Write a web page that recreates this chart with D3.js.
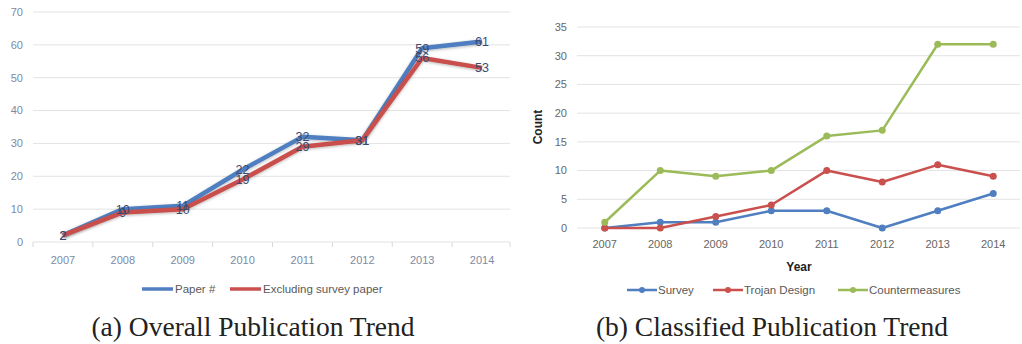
<!DOCTYPE html>
<html>
<head>
<meta charset="utf-8">
<script src="https://cdn.jsdelivr.net/npm/d3@7"></script>
<style>
  html, body { margin: 0; padding: 0; background: #fff; }
  svg { display: block; }
</style>
</head>
<body>
<svg id="chart" width="1022" height="344"></svg>
<script>
// years shared by both panels
var years = ['2007', '2008', '2009', '2010', '2011', '2012', '2013', '2014'];

// (a) overall trend
var paperCount = [2, 10, 11, 22, 32, 31, 59, 61];
var excludingSurvey = [2, 9, 10, 19, 29, 31, 56, 53];
var overallTicks = [0, 10, 20, 30, 40, 50, 60, 70];

// (b) classified trend
var survey = [0, 1, 1, 3, 3, 0, 3, 6];
var trojanDesign = [0, 0, 2, 4, 10, 8, 11, 9];
var countermeasures = [1, 10, 9, 10, 16, 17, 32, 32];
var classifiedTicks = [0, 5, 10, 15, 20, 25, 30, 35];

var BLUE = '#4f7fc0';
var RED = '#c9504d';
var GREEN = '#9bbb59';
var AXIS_FONT = '"Liberation Sans", Arial, sans-serif';
var CAPTION_FONT = '"Liberation Serif", "Times New Roman", serif';

var svg = d3.select('#chart');

// soft shadow used by the thick lines on the left panel
var defs = svg.append('defs');
defs.append('filter')
    .attr('id', 'glow')
    .attr('x', '-10%').attr('y', '-10%')
    .attr('width', '120%').attr('height', '120%')
    .append('feDropShadow')
    .attr('dx', 0).attr('dy', 1)
    .attr('stdDeviation', 1.4)
    .attr('flood-color', '#000')
    .attr('flood-opacity', 0.28);

/**
 * Draws the horizontal grid and the tick labels for one panel.
 */
function drawFrame(g, x, y, ticks, x0, x1, labelColor) {
  g.append('g').selectAll('line').data(ticks)
      .enter().append('line')
      .attr('x1', x0).attr('x2', x1)
      .attr('y1', function(d) { return y(d); })
      .attr('y2', function(d) { return y(d); })
      .attr('stroke', '#e3e3e3')
      .attr('stroke-width', 1);

  g.append('g').selectAll('text').data(ticks)
      .enter().append('text')
      .attr('x', x0 - 10)
      .attr('y', function(d) { return y(d); })
      .attr('dy', '0.35em')
      .attr('text-anchor', 'end')
      .attr('font-family', AXIS_FONT)
      .attr('font-size', 11)
      .attr('fill', labelColor)
      .text(function(d) { return d; });
}

// ---------- panel (a) ----------
(function() {
  var g = svg.append('g');
  var x = d3.scaleBand().domain(years).range([33, 512]);
  var y = d3.scaleLinear().domain([0, 70]).range([242, 12]);
  var cx = function(d, i) { return x(years[i]) + x.bandwidth() / 2; };

  drawFrame(g, x, y, overallTicks, 33, 510, '#7d8aa3');

  // category tick marks below the base line
  var bounds = years.map(function(d) { return x(d); }).concat([x.range()[1] - 2]);
  g.append('g').selectAll('line').data(bounds)
      .enter().append('line')
      .attr('x1', function(d) { return d; })
      .attr('x2', function(d) { return d; })
      .attr('y1', y(0)).attr('y2', y(0) + 5)
      .attr('stroke', '#d9d9d9');

  g.append('g').selectAll('text').data(years)
      .enter().append('text')
      .attr('x', function(d) { return x(d) + x.bandwidth() / 2; })
      .attr('y', 260)
      .attr('dy', '0.35em')
      .attr('text-anchor', 'middle')
      .attr('font-family', AXIS_FONT)
      .attr('font-size', 11)
      .attr('fill', '#7d8aa3')
      .text(function(d) { return d; });

  var line = d3.line().x(cx).y(function(d) { return y(d); });
  var series = [
    {name: 'Paper #', values: paperCount, color: BLUE},
    {name: 'Excluding survey paper', values: excludingSurvey, color: RED}
  ];

  series.forEach(function(s) {
    g.append('path')
        .datum(s.values)
        .attr('d', line)
        .attr('fill', 'none')
        .attr('stroke', s.color)
        .attr('stroke-width', 4.5)
        .attr('stroke-linejoin', 'round')
        .attr('filter', 'url(#glow)');
  });

  // value labels sit centred on each point
  series.forEach(function(s) {
    g.append('g').selectAll('text').data(s.values)
        .enter().append('text')
        .attr('x', cx)
        .attr('y', function(d) { return y(d); })
        .attr('dy', '0.35em')
        .attr('text-anchor', 'middle')
        .attr('font-family', AXIS_FONT)
        .attr('font-size', 12.5)
        .attr('fill', '#3c4a6e')
        .text(function(d) { return d; });
  });

  // legend
  var legendX = [142, 230];
  series.forEach(function(s, i) {
    var lg = g.append('g').attr('transform', 'translate(' + legendX[i] + ',289)');
    lg.append('line')
        .attr('x1', 0).attr('x2', 31)
        .attr('stroke', s.color).attr('stroke-width', 3.5);
    lg.append('text')
        .attr('x', 33).attr('dy', '0.35em')
        .attr('font-family', AXIS_FONT)
        .attr('font-size', 11.5)
        .attr('fill', '#595959')
        .text(s.name);
  });

  g.append('text')
      .attr('x', 253).attr('y', 336)
      .attr('text-anchor', 'middle')
      .attr('font-family', CAPTION_FONT)
      .attr('font-size', 27.5)
      .attr('fill', '#222')
      .text('(a) Overall Publication Trend');
})();

// ---------- panel (b) ----------
(function() {
  var g = svg.append('g');
  var x = d3.scaleBand().domain(years).range([577, 1021]);
  var y = d3.scaleLinear().domain([0, 35]).range([228, 27]);
  var cx = function(d, i) { return x(years[i]) + x.bandwidth() / 2; };

  drawFrame(g, x, y, classifiedTicks, 577, 1020, '#666');

  g.append('g').selectAll('text').data(years)
      .enter().append('text')
      .attr('x', function(d) { return x(d) + x.bandwidth() / 2; })
      .attr('y', 244)
      .attr('dy', '0.35em')
      .attr('text-anchor', 'middle')
      .attr('font-family', AXIS_FONT)
      .attr('font-size', 11)
      .attr('fill', '#666')
      .text(function(d) { return d; });

  g.append('text')
      .attr('x', 799).attr('y', 267)
      .attr('dy', '0.35em')
      .attr('text-anchor', 'middle')
      .attr('font-family', AXIS_FONT)
      .attr('font-size', 12)
      .attr('font-weight', 'bold')
      .attr('fill', '#222')
      .text('Year');

  g.append('text')
      .attr('transform', 'translate(538,127) rotate(-90)')
      .attr('dy', '0.35em')
      .attr('text-anchor', 'middle')
      .attr('font-family', AXIS_FONT)
      .attr('font-size', 12)
      .attr('font-weight', 'bold')
      .attr('fill', '#222')
      .text('Count');

  var line = d3.line().x(cx).y(function(d) { return y(d); });
  var series = [
    {name: 'Survey', values: survey, color: BLUE},
    {name: 'Trojan Design', values: trojanDesign, color: RED},
    {name: 'Countermeasures', values: countermeasures, color: GREEN}
  ];

  series.forEach(function(s) {
    var sg = g.append('g');
    sg.append('path')
        .datum(s.values)
        .attr('d', line)
        .attr('fill', 'none')
        .attr('stroke', s.color)
        .attr('stroke-width', 2.5)
        .attr('stroke-linejoin', 'round');
    sg.selectAll('circle').data(s.values)
        .enter().append('circle')
        .attr('cx', cx)
        .attr('cy', function(d) { return y(d); })
        .attr('r', 3.5)
        .attr('fill', s.color);
  });

  var legendX = [627, 713, 838];
  series.forEach(function(s, i) {
    var lg = g.append('g').attr('transform', 'translate(' + legendX[i] + ',290)');
    lg.append('line')
        .attr('x1', 0).attr('x2', 30)
        .attr('stroke', s.color).attr('stroke-width', 2.5);
    lg.append('circle')
        .attr('cx', 15).attr('r', 3)
        .attr('fill', s.color);
    lg.append('text')
        .attr('x', 31).attr('dy', '0.35em')
        .attr('font-family', AXIS_FONT)
        .attr('font-size', 11.5)
        .attr('fill', '#595959')
        .text(s.name);
  });

  g.append('text')
      .attr('x', 772).attr('y', 336)
      .attr('text-anchor', 'middle')
      .attr('font-family', CAPTION_FONT)
      .attr('font-size', 27.5)
      .attr('fill', '#222')
      .text('(b) Classified Publication Trend');
})();
</script>
</body>
</html>
